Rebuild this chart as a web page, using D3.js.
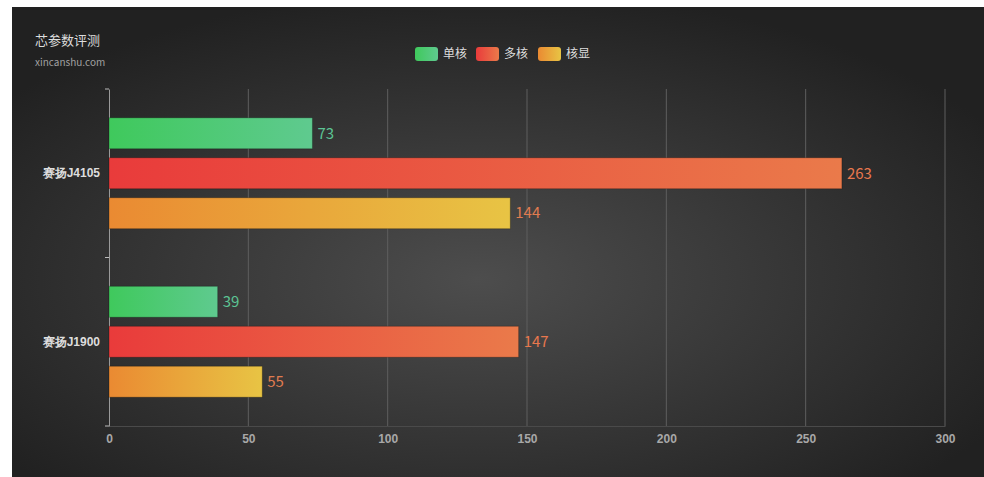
<!DOCTYPE html>
<html>
<head>
<meta charset="utf-8">
<script src="https://cdn.jsdelivr.net/npm/d3@7"></script>
<style>
  html, body { margin: 0; padding: 0; background: #fff; }
  svg { display: block; font-family: "Microsoft YaHei", "Noto Sans CJK SC", sans-serif; }
</style>
</head>
<body>
<div id="chart"></div>
<script>
// chart data
var categories = ["赛扬J4105", "赛扬J1900"];
var seriesNames = ["单核", "多核", "核显"];
var singleCore = [73, 39];
var multiCore = [263, 147];
var gpuScore = [144, 55];
var xTicks = [0, 50, 100, 150, 200, 250, 300];

var width = 984;
var height = 477;
var margin = { top: 89, right: 39, bottom: 51, left: 109 };

var svg = d3.select("#chart")
    .append("svg")
    .attr("width", width)
    .attr("height", height);

var defs = svg.append("defs");

// background radial gradient
var bg = defs.append("radialGradient")
    .attr("id", "bg")
    .attr("cx", "48%").attr("cy", "58%").attr("r", "62%");
bg.append("stop").attr("offset", "0%").attr("stop-color", "#4d4d4d");
bg.append("stop").attr("offset", "100%").attr("stop-color", "#212121");

// bar gradients, one per series
var colors = [
    { from: "#3fc95c", to: "#5fca8f", label: "#5cc494" },
    { from: "#e93b3b", to: "#ea7a4a", label: "#e8784e" },
    { from: "#ea8a32", to: "#e8c444", label: "#e07c50" }
];
colors.forEach(function(c, i) {
    var g = defs.append("linearGradient")
        .attr("id", "grad" + i)
        .attr("x1", "0%").attr("x2", "100%").attr("y1", "0%").attr("y2", "0%");
    g.append("stop").attr("offset", "0%").attr("stop-color", c.from);
    g.append("stop").attr("offset", "100%").attr("stop-color", c.to);
});

svg.append("rect")
    .attr("x", 12).attr("y", 7)
    .attr("width", width - 12).attr("height", height - 7)
    .attr("fill", "url(#bg)");

// scales
var xScale = d3.scaleLinear()
    .domain([0, 300])
    .range([margin.left, width - margin.right]);

var yScale = d3.scaleBand()
    .domain(categories)
    .range([margin.top, height - margin.bottom]);

var inner = d3.scaleBand()
    .domain(seriesNames)
    .range([0, yScale.bandwidth()])
    .paddingInner(0.225)
    .paddingOuter(0.72);

// vertical grid lines
svg.append("g")
    .selectAll("line")
    .data(xTicks.slice(1))
    .enter().append("line")
    .attr("x1", d => xScale(d)).attr("x2", d => xScale(d))
    .attr("y1", margin.top).attr("y2", height - margin.bottom)
    .attr("stroke", "#5e5e5e")
    .attr("stroke-width", 1);

// x axis
var xAxis = svg.append("g")
    .attr("transform", "translate(0," + (height - margin.bottom) + ")")
    .call(d3.axisBottom(xScale).tickValues(xTicks).tickSize(0).tickPadding(8));
xAxis.select(".domain").attr("stroke", "#4a4a4a");
xAxis.selectAll("text")
    .attr("fill", "#a8a8a8")
    .style("font-size", "12px")
    .style("font-weight", "bold");

// y axis
var yAxis = svg.append("g")
    .attr("transform", "translate(" + margin.left + ",0)")
    .call(d3.axisLeft(yScale).tickSize(0).tickPadding(9));
yAxis.select(".domain").attr("stroke", "#9a9a9a");
yAxis.selectAll("text")
    .attr("fill", "#dddddd")
    .style("font-size", "12px")
    .style("font-weight", "bold");
// boundary ticks of the category axis
svg.append("g")
    .selectAll("line")
    .data([margin.top, margin.top + yScale.bandwidth(), height - margin.bottom])
    .enter().append("line")
    .attr("x1", margin.left - 4).attr("x2", margin.left)
    .attr("y1", d => d).attr("y2", d => d)
    .attr("stroke", "#bbbbbb");

// bars
var seriesData = [singleCore, multiCore, gpuScore];
seriesData.forEach(function(values, s) {
    var g = svg.append("g");
    g.selectAll("rect")
        .data(values)
        .enter().append("rect")
        .attr("x", xScale(0))
        .attr("y", (d, i) => yScale(categories[i]) + inner(seriesNames[s]))
        .attr("width", d => xScale(d) - xScale(0))
        .attr("height", inner.bandwidth())
        .attr("fill", "url(#grad" + s + ")")
        .attr("stroke", "rgba(0,0,0,0.25)")
        .attr("stroke-width", 1);
    g.selectAll("text")
        .data(values)
        .enter().append("text")
        .attr("x", d => xScale(d) + 5)
        .attr("y", (d, i) => yScale(categories[i]) + inner(seriesNames[s]) + inner.bandwidth() / 2)
        .attr("dy", "0.35em")
        .attr("fill", colors[s].label)
        .style("font-size", "15px")
        .text(d => d);
});

// legend
var legendX = [415, 476, 538];
var legend = svg.append("g");
seriesNames.forEach(function(name, i) {
    legend.append("rect")
        .attr("x", legendX[i]).attr("y", 47)
        .attr("width", 23).attr("height", 14)
        .attr("rx", 3)
        .attr("fill", "url(#grad" + i + ")");
    legend.append("text")
        .attr("x", legendX[i] + 28).attr("y", 54)
        .attr("dy", "0.35em")
        .attr("fill", "#dddddd")
        .style("font-size", "12px")
        .text(name);
});

// title and subtitle
svg.append("text")
    .attr("x", 35).attr("y", 45)
    .attr("fill", "#dddddd")
    .style("font-size", "13px")
    .text("芯参数评测");

svg.append("text")
    .attr("x", 35).attr("y", 66)
    .attr("fill", "#a0a0a0")
    .style("font-size", "10px")
    .text("xincanshu.com");
</script>
</body>
</html>
